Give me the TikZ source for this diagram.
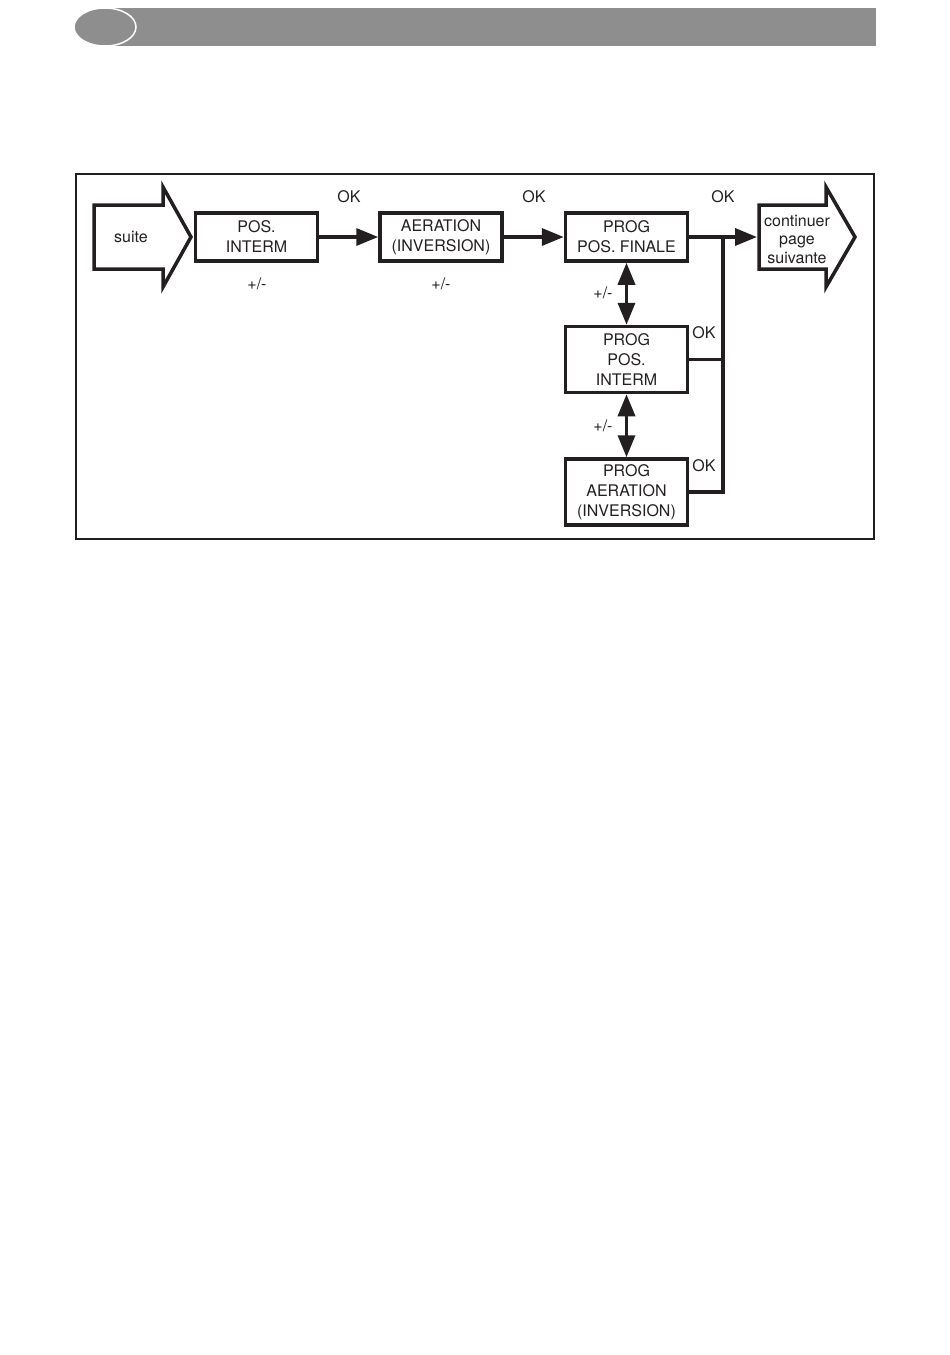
\documentclass[tikz,border=0pt]{standalone}
\usepackage{fontspec}
\setmainfont{TeX Gyre Heros}
\usetikzlibrary{positioning,arrows.meta}
\definecolor{ink}{RGB}{35,31,32}
\definecolor{headgray}{RGB}{143,142,142}

\begin{document}
\begin{tikzpicture}[x=1pt, y=-1pt,
squarednode/.style={rectangle, draw=ink, text=ink, line width=3.5pt, minimum width=122pt, minimum height=48pt, inner sep=0pt, align=center, font=\fontsize{16}{20}\selectfont},
tallnode/.style={squarednode, minimum height=66pt},
labelnode/.style={text=ink, inner sep=0pt, align=center, font=\fontsize{16}{20}\selectfont},
bigarrow/.style={draw=ink, line width=3.5pt, line join=miter},
link/.style={draw=ink, line width=3.5pt, -{Triangle[length=22pt, width=17pt]}},
dlink/.style={draw=ink, line width=3.5pt, {Triangle[length=22pt, width=17pt]}-{Triangle[length=22pt, width=17pt]}},
plainlink/.style={draw=ink, line width=3.5pt, line join=miter},
]
\useasboundingbox (0,0) rectangle (950,1355);

%Header
\fill[headgray] (110,8) rectangle (876,46);
\draw[white, line width=1.5pt, fill=headgray] (105,27) ellipse [x radius=31, y radius=19];

%Frame
\draw[ink, line width=2.5pt] (76,174) rectangle (874,539);

%Nodes
\node[labelnode]        (suite)     at (131,237)           {suite};
\node[squarednode]      (PosInterm) at (256.5,237)         {POS.\\INTERM};
\node[squarednode]      (Aeration)  [right=59pt of PosInterm] {AERATION\\(INVERSION)};
\node[squarednode]      (ProgFinale) [right=60pt of Aeration] {PROG\\POS. FINALE};
\node[tallnode]         (ProgInterm) [below=62pt of ProgFinale] {PROG\\POS.\\INTERM};
\node[tallnode]         (ProgAeration) [below=63pt of ProgInterm] {PROG\\AERATION\\(INVERSION)};
\node[labelnode, font=\fontsize{16}{18.5}\selectfont] (cont) at (797,239) {continuer\\page\\suivante};
\coordinate             (contin)    at (757,237);
\coordinate             (junc)      at (723,237);

%Labels
\node[labelnode] (ok1) at (349,197) {OK};
\node[labelnode] (ok2) at (534,197) {OK};
\node[labelnode] (ok3) at (723,197) {OK};
\node[labelnode] (ok4) at (704,333) {OK};
\node[labelnode] (ok5) at (704,466) {OK};
\node[labelnode] (pm1) at (257,284) {+/-};
\node[labelnode] (pm2) at (441,284) {+/-};
\node[labelnode] (pm3) at (603,293) {+/-};
\node[labelnode] (pm4) at (603,426) {+/-};

%Big arrows
\draw[bigarrow] (94,205) -- (163,205) -- (163,187) -- (191,237) -- (163,287) -- (163,269) -- (94,269) -- cycle;
\draw[bigarrow] (759,205) -- (826,205) -- (826,187) -- (855,237) -- (826,287) -- (826,269) -- (759,269) -- cycle;

%Lines
\draw[link] (PosInterm.east) -- (Aeration.west);
\draw[link] (Aeration.east) -- (ProgFinale.west);
\draw[link] (ProgFinale.east) -- (contin);
\draw[dlink] (ProgFinale.south) -- (ProgInterm.north);
\draw[dlink] (ProgInterm.south) -- (ProgAeration.north);
\draw[plainlink] (ProgAeration.east) -| (junc);
\draw[plainlink] (ProgInterm.east) -- (ProgInterm.east -| junc);

\end{tikzpicture}
\end{document}
